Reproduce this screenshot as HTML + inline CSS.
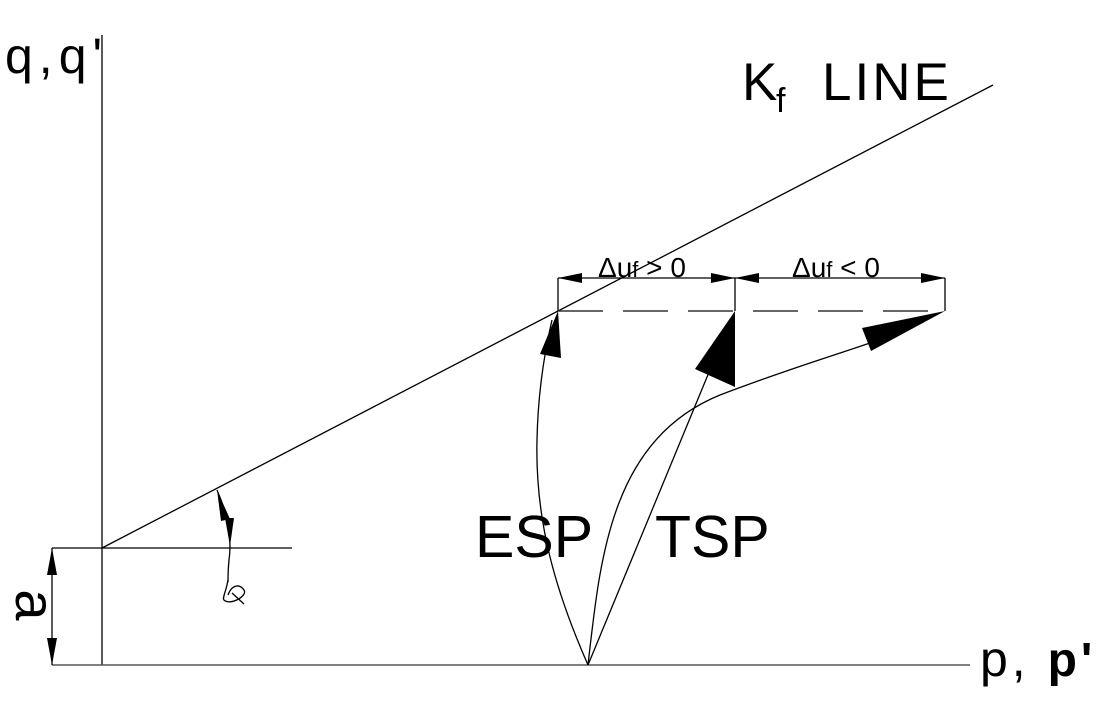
<!DOCTYPE html>
<html><head><meta charset="utf-8"><style>
html,body{margin:0;padding:0;background:#fff;}
svg{display:block;}
text{font-family:"Liberation Sans",Arial,sans-serif;fill:#000;}
</style></head><body>
<svg width="1105" height="705" viewBox="0 0 1105 705" xmlns="http://www.w3.org/2000/svg">
<g stroke="#000" stroke-width="1.3" fill="none">
<line x1="102" y1="35" x2="102" y2="665"/>
<line x1="52" y1="665" x2="970" y2="665" stroke="#555" stroke-width="1.6"/>
<line x1="102" y1="548" x2="993" y2="85"/>
<line x1="52" y1="548" x2="292" y2="548"/>
<line x1="52" y1="548" x2="52" y2="665"/>
<line x1="558" y1="311" x2="945" y2="311" stroke="#333" stroke-width="1.6" stroke-dasharray="45,20"/>
<line x1="558" y1="278" x2="945" y2="278"/>
<line x1="558" y1="278" x2="558" y2="311"/>
<line x1="735" y1="278" x2="735" y2="311"/>
<line x1="945" y1="278" x2="945" y2="311"/>
<path d="M588,665 C555,590 535,520 537,440 C538,390 545,350 552,320"/>
<line x1="588" y1="665" x2="712" y2="365"/>
<path d="M588,665 C600,560 610,440 720,395 C780,372 820,360 870,343"/>
<path d="M217,490 C228,515 232,540 229,560 C228,570 228,578 228,582"/>
<path d="M228,580 C226,592 222,598 224,600 C230,606 248,596 244,590 C240,584 232,584 228,595 M232,593 L244,604"/>
</g>
<g fill="#000">
<polygon points="52,548 47,575 57,575"/>
<polygon points="52,665 47,638 57,638"/>
<polygon points="558,278 582,273 582,283"/>
<polygon points="735,278 711,273 711,283"/>
<polygon points="735,278 759,273 759,283"/>
<polygon points="945,278 921,273 921,283"/>
<polygon points="558,311 561,358 540,354"/>
<polygon points="735,311 735,387 695,369"/>
<polygon points="945,311 871,351 862,328"/>
<polygon points="217,490 230,519 221,521"/>
<polygon points="230,546 225,518 234,518"/>
</g>
<text x="5" y="73" font-size="50" letter-spacing="6">q,q'</text>
<text x="742" y="100" font-size="53">K</text>
<text x="776" y="112" font-size="34">f</text>
<text x="822" y="100" font-size="53" letter-spacing="3">LINE</text>
<text x="598" y="277" font-size="28">Δu<tspan font-size="22">f</tspan> &gt; 0</text>
<text x="792" y="277" font-size="28">Δu<tspan font-size="22">f</tspan> &lt; 0</text>
<text x="475" y="557" font-size="59">ESP</text>
<text x="655" y="557" font-size="59">TSP</text>
<text x="980" y="676" font-size="50" letter-spacing="4">p, <tspan font-weight="bold" font-size="48">p'</tspan></text>
<text x="0" y="0" font-size="56" transform="translate(16,605) rotate(90)" text-anchor="middle">a</text>
</svg>
</body></html>
